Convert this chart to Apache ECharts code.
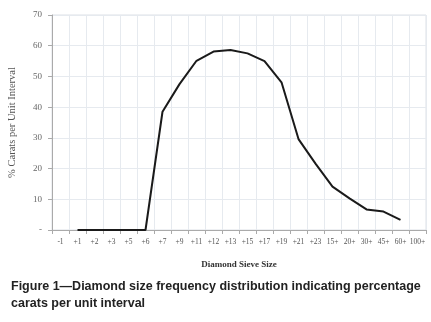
<!DOCTYPE html>
<html>
<head>
<meta charset="utf-8">
<script src="https://cdn.jsdelivr.net/npm/echarts@6/dist/echarts.min.js"></script>
<style>
  html, body { margin: 0; padding: 0; background: #fff; }
  #chart { width: 431px; height: 322px; }
</style>
</head>
<body>
<div id="chart"></div>
<script>
const sieveSizes = ['-1', '+1', '+2', '+3', '+5', '+6', '+7', '+9', '+11', '+12', '+13', '+15', '+17', '+19', '+21', '+23', '15+', '20+', '30+', '45+', '60+', '100+'];
const caratPct = [null, 0, 0, 0, 0, 0, 38.5, 47.5, 55.1, 58.1, 58.6, 57.5, 55, 48.1, 29.6, 21.6, 14.1, 10.3, 6.7, 6.0, 3.3, null];
const yTicks = [0, 10, 20, 30, 40, 50, 60, 70];

const chart = echarts.init(document.getElementById('chart'), null, { renderer: 'canvas' });
const serif = '"Liberation Serif", "DejaVu Serif", serif';

chart.setOption({
  animation: false,
  backgroundColor: '#fff',
  title: {
    text: 'Figure 1\u2014Diamond size frequency distribution indicating percentage\ncarats per unit interval',
    left: 6, top: 273,
    textStyle: { fontFamily: '"Liberation Sans", Arial, sans-serif', fontSize: 12.5, fontWeight: 'bold', color: '#222', lineHeight: 17 }
  },
  grid: { left: 52, right: 5, top: 15, bottom: 92, show: true, borderColor: '#dde1e6', borderWidth: 1, outerBoundsMode: 'none' },
  xAxis: {
    type: 'category',
    data: sieveSizes,
    boundaryGap: true,
    name: 'Diamond Sieve Size',
    nameLocation: 'middle',
    nameGap: 30,
    nameTextStyle: { fontFamily: serif, fontSize: 9, fontWeight: 'bold', color: '#333' },
    axisLine: { lineStyle: { color: '#aaa' } },
    axisTick: { show: true, length: 4, lineStyle: { color: '#aaa' } },
    axisLabel: { interval: 0, fontFamily: serif, fontSize: 7.5, color: '#555', margin: 8 },
    splitLine: { show: true, lineStyle: { color: '#e6eaef' } }
  },
  yAxis: {
    type: 'value',
    min: yTicks[0], max: yTicks[yTicks.length - 1], interval: 10,
    name: '% Carats per Unit Interval',
    nameLocation: 'middle',
    nameGap: 34,
    nameRotate: 90,
    nameTextStyle: { fontFamily: serif, fontSize: 10.5, color: '#555' },
    axisLine: { show: true, lineStyle: { color: '#aaa' } },
    axisTick: { show: true, length: 4, lineStyle: { color: '#aaa' } },
    axisLabel: { fontFamily: serif, fontSize: 9, color: '#666', margin: 10,
      formatter: v => v === 0 ? '-' : String(v) },
    splitLine: { show: true, lineStyle: { color: '#e6eaef' } }
  },
  series: [{
    type: 'line',
    data: caratPct,
    showSymbol: false,
    connectNulls: false,
    lineStyle: { color: '#1a1a1a', width: 2 }
  }]
});
</script>
</body>
</html>
